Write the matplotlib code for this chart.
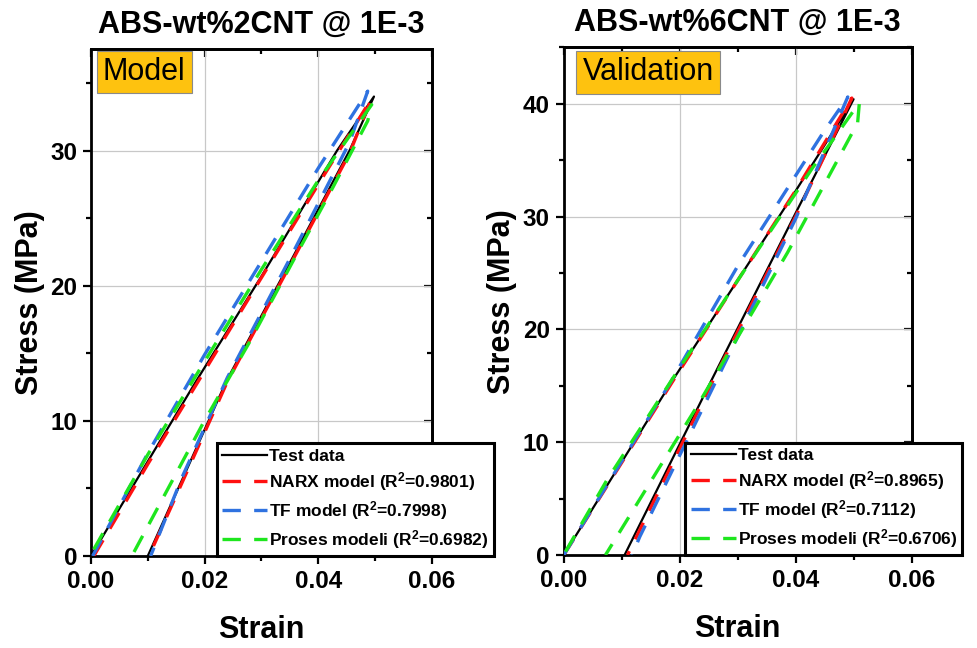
import matplotlib
matplotlib.use("Agg")
import matplotlib.pyplot as plt
from matplotlib.ticker import MultipleLocator

plt.rcParams['font.family'] = ['Liberation Sans', 'DejaVu Sans']
plt.rcParams['font.weight'] = 'bold'
plt.rcParams['mathtext.fontset'] = 'custom'
plt.rcParams['mathtext.bf'] = 'Liberation Sans:bold'
plt.rcParams['mathtext.default'] = 'bf'

# ---- left panel (model, 2 wt% CNT) ----
test_x_L = [0, 0.010, 0.0186, 0.030, 0.0433, 0.0498, 0.0455, 0.0350, 0.0239, 0.0160, 0.0100]
test_y_L = [0, 7.0, 13.0, 20.7, 30.0, 34.0, 30.0, 21.7, 13.0, 5.6, 0]
narx_x_L = [0.0005, 0.010, 0.020, 0.030, 0.040, 0.0493, 0.0455, 0.035, 0.024, 0.016, 0.0102]
narx_y_L = [0, 6.8, 13.7, 20.6, 27.5, 33.8, 29.8, 21.5, 12.9, 5.4, 0]
tf_x_L = [0.0003, 0.010, 0.020, 0.030, 0.040, 0.0487, 0.0455, 0.035, 0.024, 0.016, 0.0105]
tf_y_L = [0, 7.6, 14.9, 21.8, 28.7, 34.4, 30.6, 22.0, 13.2, 5.8, 0]
ps_x_L = [0.0005, 0.010, 0.020, 0.030, 0.040, 0.0494, 0.0487, 0.0426, 0.0368, 0.0280, 0.0197, 0.0072]
ps_y_L = [0.5, 7.5, 14.4, 21.2, 27.8, 33.4, 32.2, 27.3, 22.8, 15.9, 9.8, 0]
r2_L = ["0.9801", "0.7998", "0.6982"]

# ---- right panel (validation, 6 wt% CNT) ----
test_x_R = [0, 0.0188, 0.0398, 0.0500, 0.0400, 0.0255, 0.0105]
test_y_R = [0, 15.5, 32.1, 40.4, 30.3, 15.5, 0]
narx_x_R = [0, 0.0188, 0.040, 0.0497, 0.040, 0.0255, 0.0110]
narx_y_R = [0, 15.4, 32.3, 40.5, 30.0, 15.2, 0]
tf_x_R = [0, 0.0183, 0.030, 0.0447, 0.049, 0.040, 0.0255, 0.0131, 0.0118]
tf_y_R = [0, 15.2, 25.6, 37.4, 40.6, 29.8, 14.6, 1.6, 0]
ps_x_R = [0.0003, 0.0074, 0.020, 0.0429, 0.047, 0.051, 0.0507, 0.0386, 0.0229, 0.0072]
ps_y_R = [0.3, 6.6, 16.6, 34.3, 37.2, 40.1, 38.3, 26.8, 13.1, 0]
r2_R = ["0.8965", "0.7112", "0.6706"]

fig = plt.figure(figsize=(9.77, 6.48), dpi=100)
axL = fig.add_axes([0.0931, 0.142, 0.349, 0.782])
axR = fig.add_axes([0.577, 0.1435, 0.356, 0.7835])

dash = (5.5, 4)


def panel(ax, data, r2, title, tag, ymax, tag_pos, leg_x):
    tx, ty, nx, ny, fx, fy, px, py = data
    ax.plot(tx, ty, color='black', lw=1.6, label='Test data', zorder=3)
    ax.plot(nx, ny, color='#ff1010', lw=2.4, dashes=dash,
            label='NARX model (R$^2$=' + r2[0] + ')', zorder=4)
    ax.plot(fx, fy, color='#2f72e0', lw=2.4, dashes=dash,
            label='TF model (R$^2$=' + r2[1] + ')', zorder=4)
    ax.plot(px, py, color='#1ee61e', lw=2.4, dashes=dash,
            label='Proses modeli (R$^2$=' + r2[2] + ')', zorder=4)

    ax.set_xlim(0, 0.06)
    ax.set_ylim(0, ymax)
    ax.xaxis.set_major_locator(MultipleLocator(0.02))
    ax.xaxis.set_minor_locator(MultipleLocator(0.01))
    ax.yaxis.set_major_locator(MultipleLocator(10))
    ax.yaxis.set_minor_locator(MultipleLocator(5))
    ax.xaxis.set_major_formatter(matplotlib.ticker.FormatStrFormatter('%.2f'))
    ax.grid(True, which='major', color='#c8c8c8', lw=0.9)
    ax.set_axisbelow(True)
    for s in ax.spines.values():
        s.set_linewidth(2)
    ax.tick_params(which='major', direction='out', length=6, width=1.6, labelsize=17.5, pad=4)
    ax.tick_params(which='minor', direction='out', length=3.5, width=1.6)

    # inward ticks on top and right
    top = ax.secondary_xaxis('top')
    top.xaxis.set_major_locator(MultipleLocator(0.02))
    top.xaxis.set_minor_locator(MultipleLocator(0.01))
    top.tick_params(which='major', direction='in', length=6, width=1.6, labeltop=False)
    top.tick_params(which='minor', direction='in', length=3.5, width=1.6)
    rgt = ax.secondary_yaxis('right')
    rgt.yaxis.set_major_locator(MultipleLocator(10))
    rgt.yaxis.set_minor_locator(MultipleLocator(5))
    rgt.tick_params(which='major', direction='in', length=6, width=1.6, labelright=False)
    rgt.tick_params(which='minor', direction='in', length=3.5, width=1.6)
    for sa in (top, rgt):
        for s in sa.spines.values():
            s.set_linewidth(2)

    ax.set_xlabel('Strain', fontsize=22, fontweight='bold', labelpad=16)
    ax.set_ylabel('Stress (MPa)', fontsize=22, fontweight='bold', labelpad=4)
    ax.set_title(title, fontsize=22, fontweight='bold', pad=12)

    ax.text(tag_pos[0], tag_pos[1], tag, transform=ax.transAxes, fontsize=22,
            fontweight='normal', ha='left', va='top', zorder=6,
            bbox=dict(boxstyle='square,pad=0.2', fc='#fec20f', ec='#8a8a8a', lw=0.8))

    leg = ax.legend(loc='lower left', bbox_to_anchor=(leg_x, 0.0), borderaxespad=0,
                    fontsize=12.5, frameon=True, fancybox=False, framealpha=1,
                    edgecolor='black', handlelength=2.6, handletextpad=0.1,
                    labelspacing=0.35, borderpad=0.3)
    leg.get_frame().set_linewidth(2.2)
    leg.set_zorder(10)
    for t in leg.get_texts():
        t.set_fontweight('bold')


panel(axL, (test_x_L, test_y_L, narx_x_L, narx_y_L, tf_x_L, tf_y_L, ps_x_L, ps_y_L),
      r2_L, 'ABS-wt%2CNT @ 1E-3', 'Model', 37.5, (0.035, 0.985), 0.37)
panel(axR, (test_x_R, test_y_R, narx_x_R, narx_y_R, tf_x_R, tf_y_R, ps_x_R, ps_y_R),
      r2_R, 'ABS-wt%6CNT @ 1E-3', 'Validation', 45, (0.054, 0.98), 0.35)

fig.savefig('out.png', dpi=100)
